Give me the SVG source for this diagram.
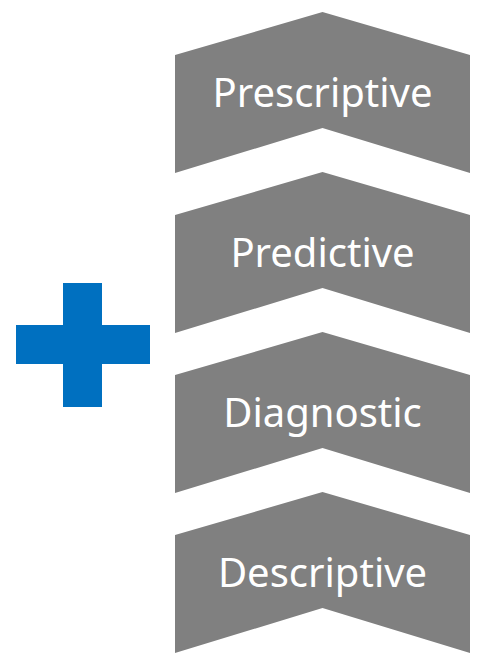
<svg xmlns="http://www.w3.org/2000/svg" width="487" height="663" viewBox="0 0 487 663">
<style>
.chev{fill:#808080}
.lbl{font-family:"Noto Sans","Open Sans",sans-serif;font-size:40px;fill:#ffffff;text-anchor:middle}
.plus{fill:#0070c0}
</style>
<defs>
<path id="chevron" d="M322.5,12 L470,55 L470,173 L322.5,128 L175,173 L175,55 Z"/>
</defs>
<g id="plus"><path class="plus" d="M63,283 H102 V325 H150 V364 H102 V407 H63 V364 H16 V325 H63 Z"/></g>
<g id="prescriptive"><use href="#chevron" class="chev"/><text class="lbl" x="322.5" y="107">Prescriptive</text></g>
<g id="predictive"><use href="#chevron" class="chev" y="160"/><text class="lbl" x="322.5" y="267">Predictive</text></g>
<g id="diagnostic"><use href="#chevron" class="chev" y="320"/><text class="lbl" x="322.5" y="427">Diagnostic</text></g>
<g id="descriptive"><use href="#chevron" class="chev" y="480"/><text class="lbl" x="322.5" y="587">Descriptive</text></g>
<g id="connectors"></g>
</svg>
